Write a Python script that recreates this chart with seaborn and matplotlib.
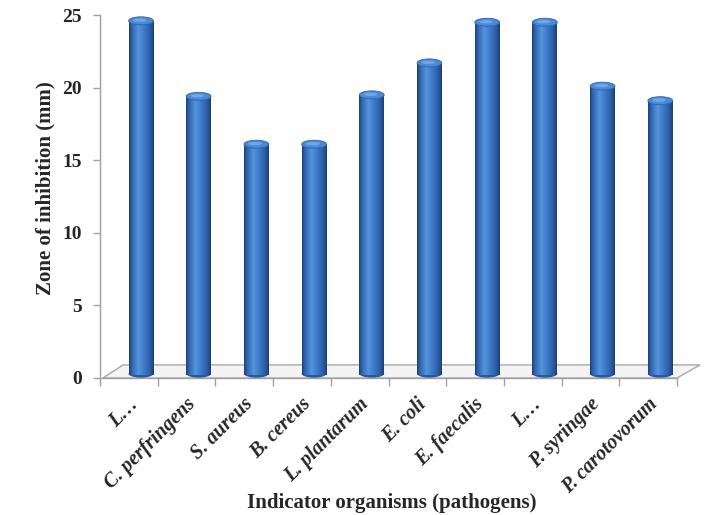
import numpy as np
import pandas as pd
import matplotlib
matplotlib.use("Agg")
import matplotlib.pyplot as plt
import seaborn as sns
from matplotlib.colors import LinearSegmentedColormap
from matplotlib.patches import Ellipse, Polygon, Rectangle
import matplotlib.transforms as mtransforms

# Data
organisms = ["L…", "C. perfringens", "S. aureus", "B. cereus", "L. plantarum",
             "E. coli", "E. faecalis", "L…", "P. syringae", "P. carotovorum"]
inhibition_mm = [24.6, 19.4, 16.1, 16.1, 19.5, 21.7, 24.5, 24.5, 20.1, 19.1]
y_ticks = [0, 5, 10, 15, 20, 25]

df = pd.DataFrame({"pos": [f"c{i}" for i in range(len(organisms))],
                   "zone": inhibition_mm})

sns.set_style("white")
plt.rcParams["font.family"] = ["Liberation Serif", "DejaVu Serif"]

fig = plt.figure(figsize=(7.04, 5.15), dpi=100)
ax = fig.add_axes([100 / 704, (515 - 378) / 515, 577 / 704, 363 / 515])

bar_w = 0.43
sns.barplot(data=df, x="pos", y="zone", color="#3a76c4", width=bar_w,
            saturation=1, ax=ax, zorder=3)
bars = [p for p in ax.patches if isinstance(p, Rectangle)]

shift = 0.21
ax.set_xlim(-0.5 - shift, len(organisms) - 0.5 - shift)
ax.set_ylim(0, 25)

# Floor of the chart
floor = Polygon([(0.005, 0.0), (1.0, 0.0), (1.04, 0.036), (0.04, 0.036)],
                closed=True, transform=ax.transAxes, facecolor="#f4f4f4",
                edgecolor="#a8a8a8", lw=1.0, clip_on=False, zorder=1)
ax.add_patch(floor)

# Cylinder shading on each bar
cyl = LinearSegmentedColormap.from_list(
    "cyl", [(0.0, "#1b4178"), (0.12, "#2f65ad"), (0.38, "#5494de"),
            (0.6, "#3e7bc9"), (0.85, "#2b5da2"), (1.0, "#1a3f75")])
grad = np.linspace(0, 1, 256).reshape(1, -1)
cap_h = 0.55
for p in bars:
    x0, w, h = p.get_x(), p.get_width(), p.get_height()
    if h <= 0:
        continue
    p.set_edgecolor("none")
    im = ax.imshow(grad, cmap=cyl, aspect="auto",
                   extent=(x0, x0 + w, 0.2, h), zorder=4)
    im.set_clip_path(p)
    p.set_facecolor("none")
    # rounded base
    ax.add_patch(Ellipse((x0 + w / 2, 0.3), w, cap_h, facecolor="#27589b",
                         edgecolor="none", zorder=3.5, clip_on=False))
    # top cap
    ax.add_patch(Ellipse((x0 + w / 2, h), w, cap_h, facecolor="#4a89d6",
                         edgecolor="#2f64aa", lw=0.6, zorder=5, clip_on=False))
    ax.add_patch(Ellipse((x0 + w * 0.45, h + 0.04), w * 0.55, cap_h * 0.45,
                         facecolor="#6ea6e6", edgecolor="none", zorder=5.5,
                         clip_on=False))
ax.set_xlim(-0.5 - shift, len(organisms) - 0.5 - shift)
ax.set_ylim(0, 25)

# Axes styling
for s in ["top", "right"]:
    ax.spines[s].set_visible(False)
ax.spines["left"].set_color("#a0a0a0")
ax.spines["bottom"].set_color("#a0a0a0")
ax.spines["left"].set_linewidth(1.0)
ax.spines["bottom"].set_linewidth(1.0)

ax.set_yticks(y_ticks)
ax.set_yticklabels([str(t) for t in y_ticks], fontsize=14, fontweight="bold")
ax.tick_params(axis="y", direction="out", length=5, width=1, color="#a0a0a0",
               pad=8, left=True)

ax.set_xticks(range(len(organisms)))
ax.set_xticks([k - 0.5 - shift for k in range(len(organisms) + 1)], minor=True)
ax.tick_params(axis="x", which="minor", direction="out", length=6, width=1,
               color="#a0a0a0", bottom=True)
ax.tick_params(axis="x", which="major", length=0, pad=6)
labels = ax.set_xticklabels(organisms, rotation=45, ha="right",
                            rotation_mode="anchor", fontsize=14.5,
                            fontweight="bold", fontstyle="italic")
off = mtransforms.ScaledTranslation(-13 / 100, -8 / 100, fig.dpi_scale_trans)
for t in labels:
    t.set_transform(t.get_transform() + off)

ax.set_xlabel("")
ax.set_ylabel("")
fig.text(392 / 704, 1 - 503 / 515, "Indicator organisms (pathogens)",
         ha="center", va="center", fontsize=15, fontweight="bold")
fig.text(45 / 704, 1 - 188 / 515, "Zone of inhibition (mm)", rotation=90,
         ha="center", va="center", fontsize=15, fontweight="bold")

fig.savefig("out.png", dpi=100)
